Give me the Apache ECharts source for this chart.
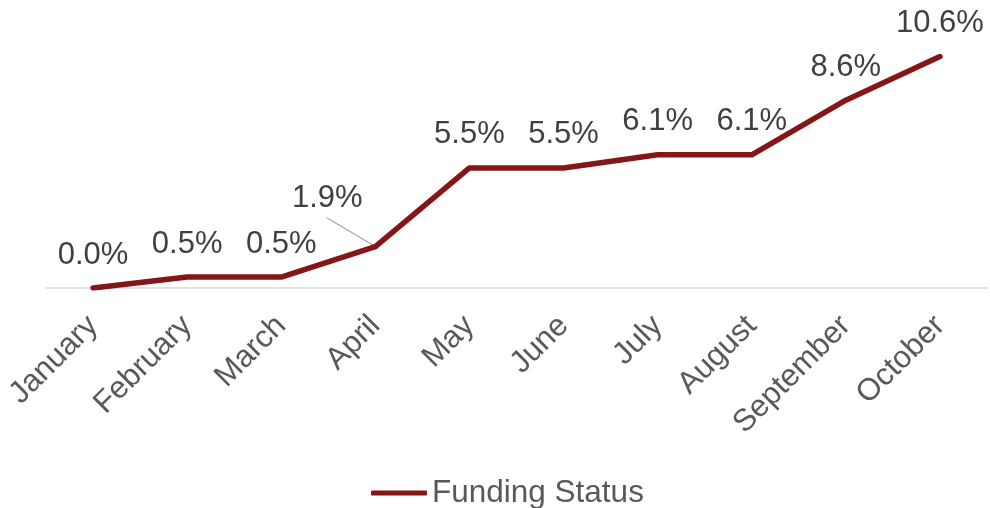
<!DOCTYPE html>
<html>
<head>
<meta charset="utf-8">
<script src="https://cdn.jsdelivr.net/npm/echarts@6/dist/echarts.min.js"></script>
<style>
  html, body { margin: 0; padding: 0; background: #fff; }
  #main { width: 990px; height: 508px; }
</style>
</head>
<body>
<div id="main"></div>
<script>
var months = ['January', 'February', 'March', 'April', 'May', 'June', 'July', 'August', 'September', 'October'];
var fundingStatus = [0.0, 0.5, 0.5, 1.9, 5.5, 5.5, 6.1, 6.1, 8.6, 10.6];
var seriesName = 'Funding Status';
var leaderIndex = 3; // April label is pulled up-left with a leader line

var chart = echarts.init(document.getElementById('main'));
var font = '"Liberation Sans", Arial, sans-serif';

chart.setOption({
    animation: false,
    grid: { left: 46, right: 3, top: 26, bottom: 220 },
    legend: {
        data: [seriesName],
        left: 366,
        top: 472,
        icon: 'roundRect',
        itemWidth: 56,
        itemHeight: 5,
        itemGap: 5,
        textStyle: { color: '#595959', fontSize: 31.5, fontFamily: font }
    },
    xAxis: {
        type: 'category',
        data: months,
        axisLine: { lineStyle: { color: '#d9d9d9', width: 1.5 } },
        axisTick: { show: false },
        axisLabel: {
            rotate: 45,
            interval: 0,
            margin: 33,
            color: '#595959',
            fontSize: 31,
            fontFamily: font
        }
    },
    yAxis: {
        type: 'value',
        min: 0,
        max: 12,
        show: false,
        splitLine: { show: false }
    },
    series: [{
        name: seriesName,
        type: 'line',
        data: fundingStatus,
        symbol: 'circle',
        symbolSize: 1,
        lineStyle: { color: '#841617', width: 5.5, cap: 'round', join: 'round' },
        itemStyle: { color: '#841617' },
        label: {
            show: true,
            position: 'top',
            distance: 17,
            color: '#404040',
            fontSize: 31,
            fontFamily: font,
            formatter: function (p) { return p.value.toFixed(1) + '%'; }
        },
        labelLayout: function (p) {
            if (p.dataIndex === leaderIndex) return { dx: -48, dy: -15 };
            return {};
        }
    }]
});

// leader line from the April point to its moved label
var pt = chart.convertToPixel({ seriesIndex: 0 }, [leaderIndex, fundingStatus[leaderIndex]]);
chart.setOption({
    graphic: [{
        type: 'line',
        silent: true,
        shape: { x1: pt[0], y1: pt[1], x2: pt[0] - 49, y2: pt[1] - 29 },
        style: { stroke: '#a6a6a6', lineWidth: 1.2 },
        z: 1
    }]
});
</script>
</body>
</html>
